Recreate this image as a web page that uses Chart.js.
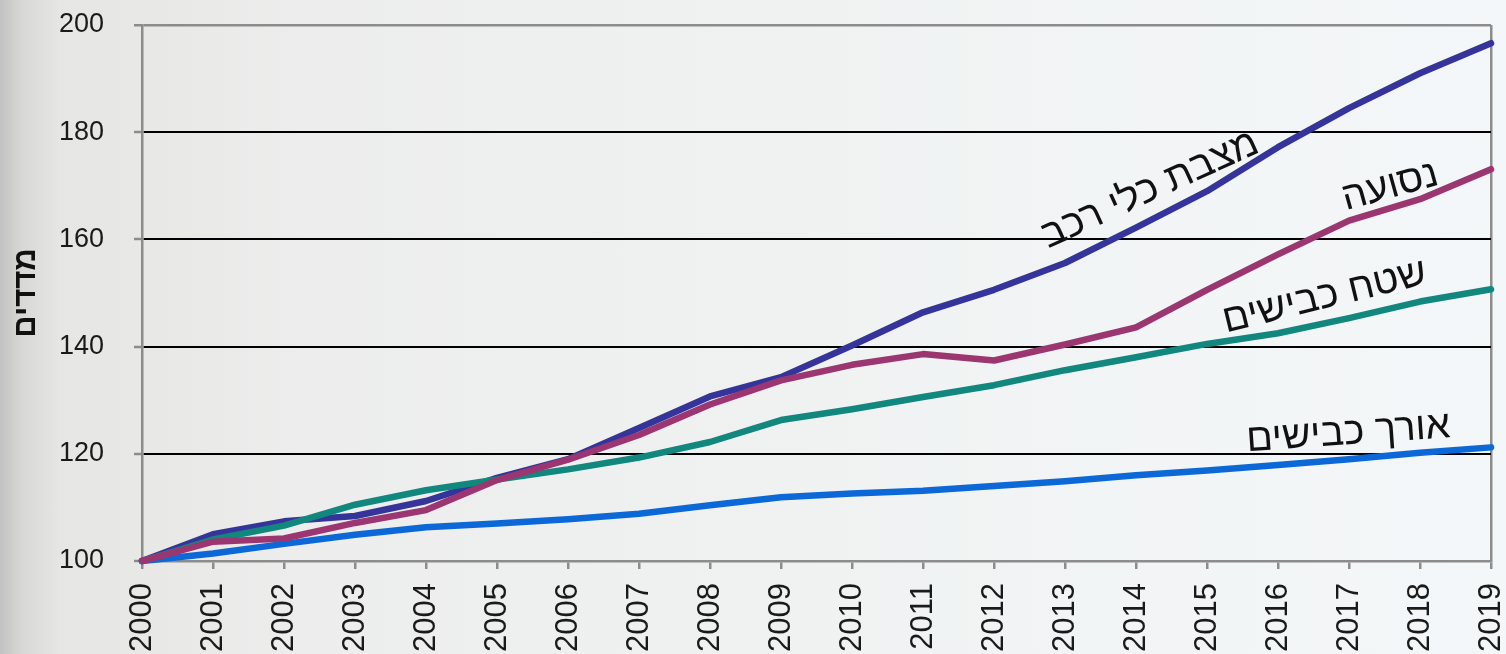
<!DOCTYPE html>
<html lang="he">
<head>
<meta charset="utf-8">
<title>מדדים 2000-2019</title>
<script src="https://cdn.jsdelivr.net/npm/chart.js@4.4.1/dist/chart.umd.min.js"></script>
<style>
    html, body {
        margin: 0;
        padding: 0;
        overflow: hidden;
    }
    body {
        width: 1506px;
        height: 654px;
        background: linear-gradient(to right, #c2c2c2 0px, #d8d8d6 22px, #e6e6e4 60px, #ecedec 300px, #f0f2f2 800px, #f4f7f9 1506px);
    }
    #wrap {
        position: relative;
        width: 1506px;
        height: 654px;
    }
</style>
</head>
<body>
<div id="wrap"><canvas id="indexChart"></canvas></div>
<script>
// years on the x axis
var years = ["2000", "2001", "2002", "2003", "2004", "2005", "2006", "2007", "2008", "2009",
    "2010", "2011", "2012", "2013", "2014", "2015", "2016", "2017", "2018", "2019"];

// index values, 2000 = 100
var vehicleFleet = [100, 105.0, 107.4, 108.4, 111.2, 115.5, 119.0, 124.8, 130.7, 134.3,
    140.2, 146.4, 150.6, 155.6, 162.2, 169.0, 177.2, 184.5, 191.0, 196.6];
var travel = [100, 103.6, 104.2, 107.1, 109.5, 115.1, 118.9, 123.5, 129.2, 133.7,
    136.6, 138.6, 137.4, 140.4, 143.6, 150.6, 157.2, 163.5, 167.5, 173.1];
var roadArea = [100, 104.0, 106.6, 110.5, 113.2, 115.2, 117.1, 119.3, 122.2, 126.3,
    128.3, 130.6, 132.8, 135.6, 138.0, 140.5, 142.5, 145.3, 148.4, 150.7];
var roadLength = [100, 101.4, 103.2, 104.9, 106.3, 107.0, 107.8, 108.8, 110.4, 111.9,
    112.6, 113.1, 114.0, 114.9, 116.0, 116.9, 117.9, 119.0, 120.2, 121.2];

var yTicks = [100, 120, 140, 160, 180, 200];

// series names written on the chart
var seriesNames = ["מצבת כלי רכב", "נסועה", "שטח כבישים", "אורך כבישים"];

var axisGray = "#8c8c8c";
var hebFont = "'Liberation Sans', Arial, 'DejaVu Sans', sans-serif";

// text labels placed along the lines (x = year index, y = index value)
var lineLabels = [
    { text: seriesNames[0], x: 14.2, y: 169.2, angle: -24.5 },
    { text: seriesNames[1], x: 17.58, y: 169.8, angle: -15.5 },
    { text: seriesNames[2], x: 16.66, y: 149.2, angle: -13.7 },
    { text: seriesNames[3], x: 16.99, y: 123.8, angle: -4 },
];

var lineLabelPlugin = {
    id: "lineLabels",
    afterDatasetsDraw: function (chart) {
        var ctx = chart.ctx;
        var xs = chart.scales.x;
        var ys = chart.scales.y;
        ctx.save();
        ctx.fillStyle = "#111111";
        ctx.font = "39px " + hebFont;
        ctx.textAlign = "center";
        ctx.textBaseline = "middle";
        lineLabels.forEach(function (l) {
            var px = xs.getPixelForValue(l.x);
            var py = ys.getPixelForValue(l.y);
            ctx.save();
            ctx.translate(px, py);
            ctx.rotate(l.angle * Math.PI / 180);
            ctx.fillText(l.text, 0, 0);
            ctx.restore();
        });
        ctx.restore();
    },
};

function makeSet(label, data, color) {
    return {
        label: label,
        data: data,
        borderColor: color,
        backgroundColor: color,
        borderWidth: 6.5,
        pointRadius: 0,
        tension: 0,
        borderJoinStyle: "round",
        borderCapStyle: "round",
        clip: false,
    };
}

var ctx1 = document.getElementById("indexChart").getContext("2d");

var chart1 = new Chart(ctx1, {
    type: "line",
    data: {
        labels: years,
        datasets: [
            makeSet(seriesNames[1], travel, "#9b3670"),
            makeSet(seriesNames[2], roadArea, "#11877e"),
            makeSet(seriesNames[0], vehicleFleet, "#35349a"),
            makeSet(seriesNames[3], roadLength, "#0b68d6"),
        ],
    },
    options: {
        responsive: true,
        maintainAspectRatio: false,
        animation: false,
        events: [],
        layout: {
            padding: { left: 0, right: 15, top: 25, bottom: 0 },
        },
        plugins: {
            legend: { display: false },
            tooltip: { enabled: false },
        },
        scales: {
            x: {
                type: "category",
                offset: false,
                afterFit: function (scale) {
                    scale.height = 93;
                    scale.paddingLeft = 0;
                    scale.paddingRight = 0;
                },
                grid: {
                    drawOnChartArea: true,
                    color: function (c) {
                        return c.index === years.length - 1 ? axisGray : "rgba(0,0,0,0)";
                    },
                    lineWidth: 2.5,
                    tickColor: axisGray,
                    tickLength: 8,
                    tickWidth: 2.5,
                },
                border: { color: axisGray, width: 2.5 },
                ticks: {
                    autoSkip: false,
                    minRotation: 90,
                    maxRotation: 90,
                    padding: 14,
                    color: "#1a1a1a",
                    font: { family: hebFont, size: 31 },
                },
            },
            y: {
                min: 100,
                max: 200,
                afterBuildTicks: function (scale) {
                    scale.ticks = yTicks.map(function (v) { return { value: v }; });
                },
                afterFit: function (scale) {
                    scale.width = 142;
                    scale.paddingTop = 0;
                    scale.paddingBottom = 0;
                },
                grid: {
                    color: function (c) {
                        var v = c.tick ? c.tick.value : null;
                        return (v === 200) ? axisGray : (v === 100 ? "rgba(0,0,0,0)" : "#000000");
                    },
                    lineWidth: function (c) {
                        return (c.tick && c.tick.value === 200) ? 2.5 : 2;
                    },
                    tickColor: axisGray,
                    tickLength: 8,
                    tickWidth: 2.5,
                },
                border: { color: axisGray, width: 2.5 },
                ticks: {
                    padding: 30,
                    color: "#1a1a1a",
                    font: { family: hebFont, size: 27 },
                },
                title: {
                    display: true,
                    text: "מדדים",
                    color: "#111111",
                    padding: { top: 8, bottom: 0 },
                    font: { family: hebFont, size: 31, weight: "bold" },
                },
            },
        },
    },
    plugins: [lineLabelPlugin],
});
</script>
</body>
</html>
